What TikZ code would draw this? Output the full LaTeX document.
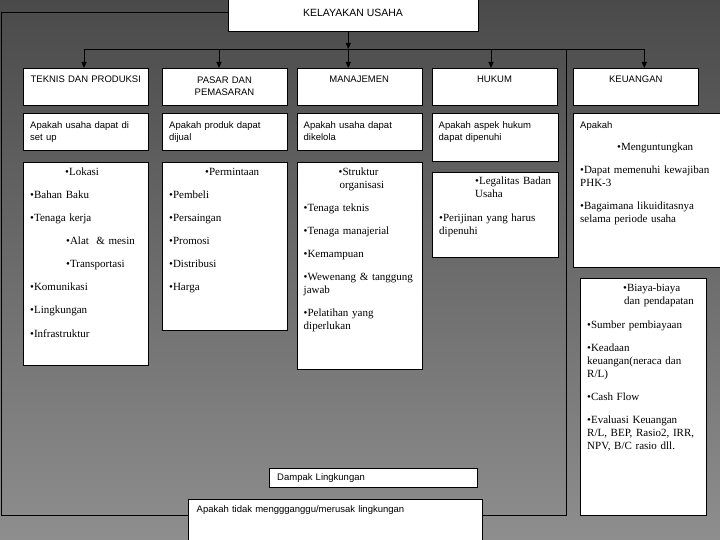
\documentclass[tikz,border=0pt]{standalone}
\usepackage{fontspec}
\setmainfont{Liberation Serif}
\setsansfont{Liberation Sans}
\usepackage{tikz}
\usetikzlibrary{arrows.meta, positioning, calc}
\definecolor{bgtop}{RGB}{74, 74, 74}
\definecolor{bgmid}{RGB}{108, 108, 108}
\definecolor{bgbot}{RGB}{142, 142, 142}
\newcommand{\gapp}{\\[10pt]}

\begin{document}
\begin{tikzpicture}[x=1pt, y=-1pt,
  box/.style={draw, fill=white, line width=0.9pt, anchor=north west, inner sep=0pt},
  head/.style={font=\sffamily\fontsize{9.5}{12.5}\selectfont, text width=124pt, align=center, anchor=base, inner sep=0pt},
  ask/.style={font=\sffamily\fontsize{9.5}{12}\selectfont, text width=150pt, align=left, anchor=base west, inner sep=0pt},
  lst/.style={font=\fontsize{11}{13}\selectfont, text width=150pt, align=left, anchor=base west, inner sep=0pt},
  arr/.style={-{Triangle[length=6pt, width=5pt]}, line width=0.9pt},
  link/.style={line width=0.9pt}]
\useasboundingbox (0,0) rectangle (720,540);
\clip (0,0) rectangle (720,540);
\shade[top color=bgtop, middle color=bgmid, bottom color=bgbot] (0,0) rectangle (720,540);

% top box
\node[box, minimum width=250pt, minimum height=33pt] (kel) at (228,-2) {};
\node[font=\sffamily\fontsize{10.5}{12}\selectfont, anchor=base, inner sep=0pt] (kelT) at (353,17) {KELAYAKAN USAHA};

% column heads
\node[box, minimum width=125pt, minimum height=37pt] (teknis) at (23.3,68) {};
\node[box, minimum width=125.6pt, minimum height=37pt] (pasar) at (161.7,68) {};
\node[box, minimum width=125pt, minimum height=37pt] (manaj) at (296.7,68) {};
\node[box, minimum width=125.6pt, minimum height=37pt] (hukum) at (431.7,68) {};
\node[box, minimum width=125pt, minimum height=37pt] (keu) at (573.3,68) {};
\node[head] (teknisT) at (85.8,83) {TEKNIS DAN PRODUKSI};
\node[head] (pasarT) at (224.5,83.5) {PASAR DAN\\PEMASARAN};
\node[head] (manajT) at (359.2,83) {MANAJEMEN};
\node[head] (hukumT) at (494.5,83) {HUKUM};
\node[head] (keuT) at (635.8,83) {KEUANGAN};

% questions
\node[box, minimum width=125pt, minimum height=37pt] (tanya1) at (23.3,113) {};
\node[box, minimum width=125.6pt, minimum height=37pt] (tanya2) at (161.7,113) {};
\node[box, minimum width=125pt, minimum height=37pt] (tanya3) at (296.7,113) {};
\node[box, minimum width=126pt, minimum height=48pt] (tanya4) at (431.7,113) {};
\node[box, minimum width=155pt, minimum height=154pt] (tanya5) at (573.3,113) {};
\node[ask] (tanya1T) at (30,129) {Apakah usaha dapat di\\set up};
\node[ask] (tanya2T) at (169,129) {Apakah produk dapat\\dijual};
\node[ask] (tanya3T) at (303.5,129) {Apakah usaha dapat\\dikelola};
\node[ask] (tanya4T) at (438.5,129) {Apakah aspek hukum\\dapat dipenuhi};
\node[ask] (tanya5T) at (580,129) {Apakah};
\node[lst] (tanya5L) at (580,151) {\hspace*{37pt}•Menguntungkan\gapp
  •Dapat memenuhi kewajiban\\PHK-3\gapp
  •Bagaimana likuiditasnya\\selama periode usaha};

% detail lists
\node[box, minimum width=125pt, minimum height=203pt] (rinci1) at (23.3,162) {};
\node[box, minimum width=125.6pt, minimum height=168pt] (rinci2) at (161.7,162) {};
\node[box, minimum width=125pt, minimum height=207pt] (rinci3) at (296.7,162) {};
\node[box, minimum width=126pt, minimum height=85.6pt] (rinci4) at (431.7,171.7) {};
\node[box, minimum width=126pt, minimum height=237pt] (rinci5) at (580,278) {};

\node[lst] (rinci1L) at (30,176) {\hspace*{35pt}•Lokasi\gapp
  •Bahan Baku\gapp
  •Tenaga kerja\gapp
  \hspace*{36pt}•Alat~ \& mesin\gapp
  \hspace*{36pt}•Transportasi\gapp
  •Komunikasi\gapp
  •Lingkungan\gapp
  •Infrastruktur};
\node[lst] (rinci2L) at (169,176) {\hspace*{36pt}•Permintaan\gapp
  •Pembeli\gapp
  •Persaingan\gapp
  •Promosi\gapp
  •Distribusi\gapp
  •Harga};
\node[lst] (rinci3L) at (303.5,176) {\hspace*{35pt}•Struktur\\\hspace*{36pt}organisasi\gapp
  •Tenaga teknis\gapp
  •Tenaga manajerial\gapp
  •Kemampuan\gapp
  •Wewenang \& tanggung\\jawab\gapp
  •Pelatihan yang\\diperlukan};
\node[lst] (rinci4L) at (439,185) {\hspace*{36pt}•Legalitas Badan\\\hspace*{36pt}Usaha\\[11pt]
  •Perijinan yang harus\\dipenuhi};
\node[lst] (rinci5L) at (587,291) {\hspace*{36pt}•Biaya-biaya\\\hspace*{37pt}dan pendapatan\\[11pt]
  •Sumber pembiayaan\gapp
  •Keadaan\\keuangan(neraca dan\\R/L)\gapp
  •Cash Flow\gapp
  •Evaluasi Keuangan\\R/L, BEP, Rasio2, IRR,\\NPV, B/C rasio dll.};

% lingkungan
\node[box, minimum width=208pt, minimum height=19pt] (dampak) at (269,468) {};
\node[ask] (dampakT) at (277,480.5) {Dampak Lingkungan};
\node[box, minimum width=294pt, minimum height=50pt] (tidak) at (188,499) {};
\node[ask, text width=290pt] (tidakT) at (196.5,512) {Apakah tidak menggganggu/merusak lingkungan};

% connectors
\coordinate (trunk) at (348.3,49);
\coordinate (b1) at (84,49);
\coordinate (b2) at (219,49);
\coordinate (b4) at (491,49);
\coordinate (b5) at (644.3,49);
\draw[link] (b1) -- (b5);
\draw[arr] (kel.south -| trunk) -- (trunk);
\draw[arr] (b1) -- (b1 |- teknis.north);
\draw[arr] (b2) -- (b2 |- pasar.north);
\draw[arr] (trunk) -- (trunk |- manaj.north);
\draw[arr] (b4) -- (b4 |- hukum.north);
\draw[arr] (b5) -- (b5 |- keu.north);

\coordinate (lt) at (1,12);
\coordinate (lb) at (1,515);
\draw[link] (kel.west |- lt) -- (lt) -- (lb) -- (lb -| tidak.west);
\coordinate (rt) at (566.7,49);
\coordinate (rb) at (566.7,515);
\draw[link] (rt) -- (rb) -- (rb -| tidak.east);
\end{tikzpicture}
\end{document}
